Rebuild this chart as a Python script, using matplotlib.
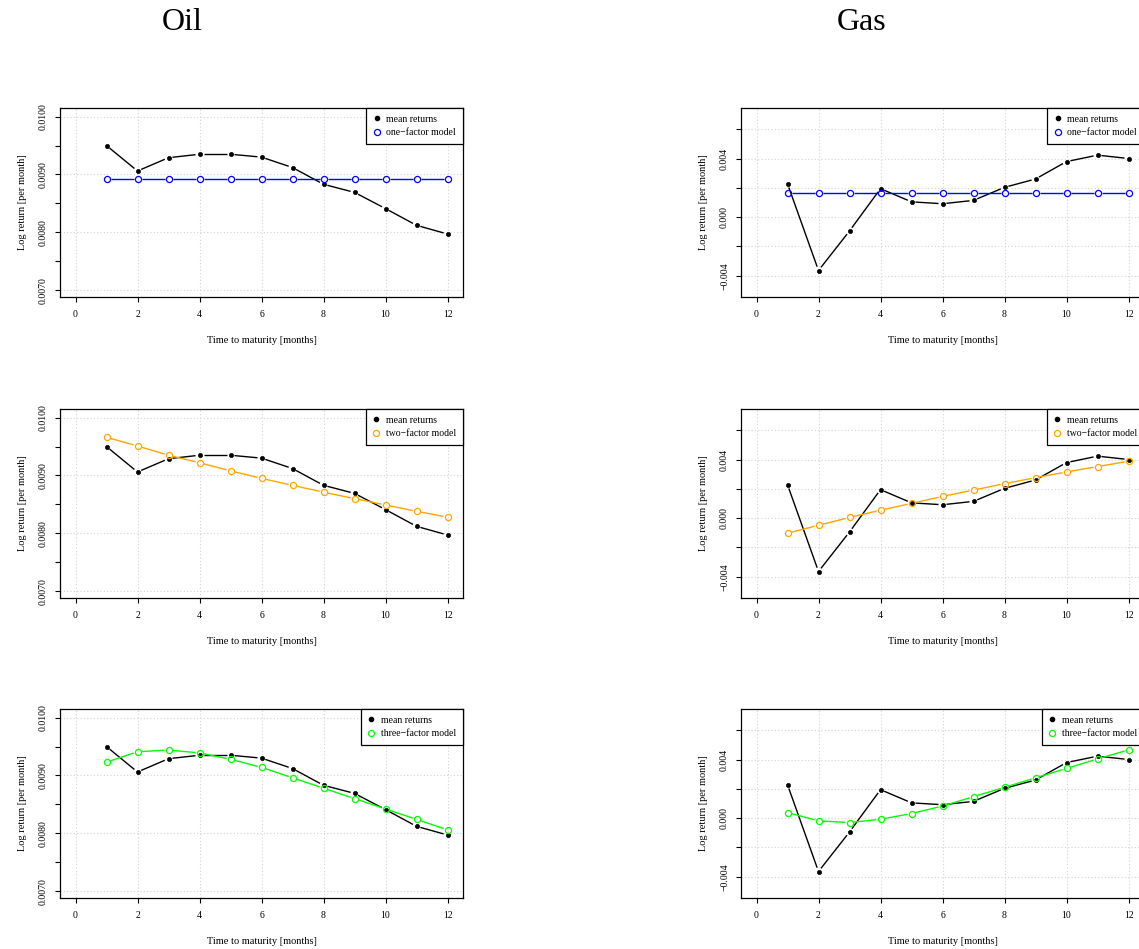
import numpy as np
import matplotlib
matplotlib.use('Agg')
import matplotlib.pyplot as plt
from matplotlib.lines import Line2D

plt.rcParams['font.family'] = ['Liberation Serif', 'DejaVu Serif']

# Maturities and mean log returns per month
maturity = np.arange(1, 13)

oil_mean = [0.00950, 0.00906, 0.00929, 0.00935, 0.00935, 0.00930,
            0.00912, 0.00883, 0.00869, 0.00841, 0.00812, 0.00797]
oil_one = [0.00892] * 12
oil_two = [0.00966, 0.00951, 0.00935, 0.00922, 0.00908, 0.00895,
           0.00883, 0.00871, 0.00860, 0.00849, 0.00838, 0.00828]
oil_three = [0.00923, 0.00941, 0.00944, 0.00939, 0.00928, 0.00914,
             0.00896, 0.00878, 0.00860, 0.00842, 0.00824, 0.00806]

gas_mean = [0.00229, -0.00364, -0.00094, 0.00195, 0.00105, 0.00092,
            0.00115, 0.00204, 0.00261, 0.00380, 0.00424, 0.00401]
gas_one = [0.00163] * 12
gas_two = [-0.00103, -0.00048, 0.00005, 0.00055, 0.00101, 0.00149,
           0.00192, 0.00236, 0.00277, 0.00316, 0.00353, 0.00389]
gas_three = [0.00039, -0.00018, -0.00030, -0.00007, 0.00032, 0.00083,
             0.00147, 0.00211, 0.00276, 0.00340, 0.00405, 0.00467]

model_names = ['one\u2212factor model', 'two\u2212factor model', 'three\u2212factor model']
model_colors = ['#0000ff', '#ffa500', '#00ff00']

oil_models = [oil_one, oil_two, oil_three]
gas_models = [gas_one, gas_two, gas_three]

oil_yticks = np.arange(0.0070, 0.01001, 0.0005)
oil_ylabels = ['0.0070', '', '0.0080', '', '0.0090', '', '0.0100']
oil_ygrid = [0.0070, 0.0080, 0.0090, 0.0100]
gas_yticks = np.arange(-0.004, 0.00601, 0.002)
gas_ylabels = ['\u22120.004', '', '0.000', '', '0.004', '']
gas_ygrid = gas_yticks

W, H = 1139, 949
fig = plt.figure(figsize=(W / 100, H / 100), dpi=100)
fig.patch.set_facecolor('white')


def gapped_line(ax, x, y, color, gap=4.0):
    # R style type="b": segments stop short of each point
    trans = ax.transData
    inv = trans.inverted()
    pts = trans.transform(np.column_stack([x, y]))
    for p0, p1 in zip(pts[:-1], pts[1:]):
        d = p1 - p0
        length = np.hypot(d[0], d[1])
        if length <= 2 * gap:
            continue
        u = d / length
        a = inv.transform(p0 + u * gap)
        b = inv.transform(p1 - u * gap)
        ax.plot([a[0], b[0]], [a[1], b[1]], color=color, lw=1.0,
                solid_capstyle='butt', zorder=3)


def make_panel(left_px, top_px, mean, model, name, color, ylim,
               yticks, ylabels, ygrid):
    bottom_px = top_px + 189
    ax = fig.add_axes([left_px / W, 1 - bottom_px / H, 403 / W, 189 / H])
    ax.set_xlim(-0.5, 12.5)
    ax.set_ylim(*ylim)

    for gx in range(0, 13, 2):
        ax.axvline(gx, color='#d3d3d3', lw=0.8, ls=(0, (1, 2)), zorder=1)
    for gy in ygrid:
        ax.axhline(gy, color='#d3d3d3', lw=0.8, ls=(0, (1, 2)), zorder=1)

    gapped_line(ax, maturity, mean, 'black')
    ax.plot(maturity, mean, ls='none', marker='o', ms=3.0,
            mfc='black', mec='black', mew=0.5, zorder=4)
    gapped_line(ax, maturity, model, color)
    ax.plot(maturity, model, ls='none', marker='o', ms=4.4,
            mfc='none', mec=color, mew=0.9, zorder=5)

    ax.set_xticks(range(0, 13, 2))
    ax.set_yticks(yticks)
    ax.set_yticklabels(ylabels, rotation=90, va='center')
    ax.tick_params(direction='out', length=3.6, width=0.8, labelsize=7,
                   colors='black')
    ax.tick_params(axis='x', pad=6)
    ax.tick_params(axis='y', pad=5)
    for s in ax.spines.values():
        s.set_linewidth(0.9)
        s.set_color('black')

    ax.set_xlabel('Time to maturity [months]', fontsize=7.5, labelpad=12)
    ax.set_ylabel('Log return [per month]', fontsize=7.5, labelpad=9)

    handles = [
        Line2D([], [], ls='none', marker='o', ms=3.0, mfc='black', mec='black'),
        Line2D([], [], ls='none', marker='o', ms=4.4, mfc='none', mec=color, mew=0.9),
    ]
    leg = ax.legend(handles, ['mean returns', name], loc='upper right',
                    fontsize=7, frameon=True, fancybox=False, framealpha=1,
                    edgecolor='black', borderaxespad=0, handlelength=0.8,
                    handletextpad=0.6, labelspacing=0.45, borderpad=0.7)
    leg.get_frame().set_linewidth(0.9)
    leg.set_zorder(10)
    return ax


tops = [108, 409, 709]
for i in range(3):
    make_panel(60, tops[i], oil_mean, oil_models[i], model_names[i],
               model_colors[i], (0.00688, 0.01015), oil_yticks, oil_ylabels,
               oil_ygrid)
    make_panel(741, tops[i], gas_mean, gas_models[i], model_names[i],
               model_colors[i], (-0.00545, 0.00746), gas_yticks, gas_ylabels,
               gas_ygrid)

fig.text(182 / W, 1 - 23 / H, 'Oil', fontsize=23, ha='center', va='center')
fig.text(862 / W, 1 - 23 / H, 'Gas', fontsize=23, ha='center', va='center')

fig.savefig('out.png', dpi=100, facecolor='white')
